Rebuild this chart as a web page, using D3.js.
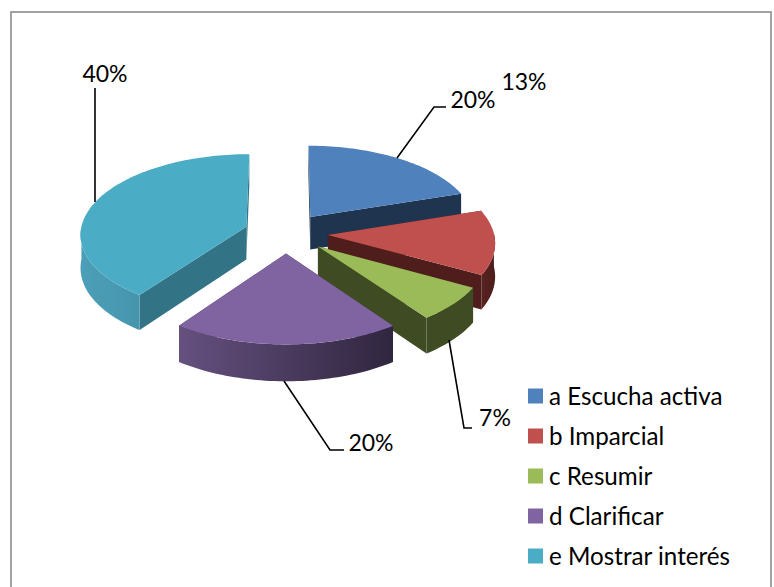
<!DOCTYPE html>
<html><head><meta charset="utf-8">
<script src="https://cdn.jsdelivr.net/npm/d3@7"></script>
<style>html,body{margin:0;padding:0;background:#fff}svg{display:block}text{font-family:Lato,"Open Sans",sans-serif;fill:#000}</style>
</head><body>
<svg id="c" width="774" height="587"></svg>
<script>
const categories = ["a Escucha activa","b Imparcial","c Resumir","d Clarificar","e Mostrar interés"];
const values = [20,13,7,20,40];
const pctLabels = ["20%","13%","7%","20%","40%"];
const topColors = ["#4F81BD","#C0504D","#9BBB59","#8064A2","#4BACC6"];
const cutColors = ["#1E344F","#4F1E1C","#3F4B22","#352A45","#327386"];
const rimLeft = ["#1E344F","#5A2321","#3F4B22","#65507F","#4C9FB8"];
const rimRight = ["#1E344F","#4A1D1B","#3F4B22","#30263F","#3A8299"];

const W=774,H=587, cx=286, cy=233, R=166, tilt=0.48, persp=2000, explode=42, depth=33;
const svg=d3.select("#c");
const defs=svg.append("defs");
svg.append("rect").attr("x",11).attr("y",12).attr("width",W-14).attr("height",H+20).attr("fill","#fff").attr("stroke","#8c8c8c").attr("stroke-width",1.6);

const pie=d3.pie().sort(null).value(d=>d);
const arcs=pie(values);
function proj(X,Z,Y){const p=1/(1+Z/persp);return [cx+X*p, cy-Z*tilt*p+Y*p];}
const line=d3.line();
const order=[4,0,1,2,3];
function sample(a0,a1){const n=Math.max(2,Math.ceil((a1-a0)*40));return d3.range(n+1).map(i=>a0+(a1-a0)*i/n);}

const g=svg.append("g");
order.forEach(i=>{
  const a=arcs[i], mid=(a.startAngle+a.endAngle)/2;
  const ox=explode*Math.sin(mid), oz=explode*Math.cos(mid);
  const P=(ang,r,y)=>proj(ox+r*Math.sin(ang),oz+r*Math.cos(ang),y);
  const gid="rim"+i, angs=sample(a.startAngle,a.endAngle);
  const xs=angs.map(t=>P(t,R,0)[0]);
  const lg=defs.append("linearGradient").attr("id",gid).attr("gradientUnits","userSpaceOnUse")
    .attr("x1",d3.min(xs)).attr("x2",d3.max(xs)).attr("y1",0).attr("y2",0);
  lg.append("stop").attr("offset",0).attr("stop-color",rimLeft[i]);
  lg.append("stop").attr("offset",1).attr("stop-color",rimRight[i]);
  const G=g.append("g");
  [a.startAngle,a.endAngle].forEach(t=>{
    G.append("path").attr("d",line([P(0,0,0),P(t,R,0),P(t,R,depth),P(0,0,depth)])+"Z").attr("fill",cutColors[i]);
  });
  const front=angs.filter(t=>Math.cos(t)<=0.02);
  if(front.length>1){
    const pts=front.map(t=>P(t,R,0)).concat(front.slice().reverse().map(t=>P(t,R,depth)));
    G.append("path").attr("d",line(pts)+"Z").attr("fill",`url(#${gid})`);
  }
  const top=[P(0,0,0)].concat(angs.map(t=>P(t,R,0)));
  G.append("path").attr("d",line(top)+"Z").attr("fill",topColors[i]);
});

const labelX=[473,524,495,371,105], labelY=[108,90,426,451,82];
const leaders=[[[397,158],[434,107],[446,107]],[],[[449,340],[464,428],[472,428]],[[284,381],[330,450],[344,450]],[[95,202],[95,88]]];
leaders.forEach(l=>{if(l.length) svg.append("path").attr("d",line(l)).attr("fill","none").attr("stroke","#000").attr("stroke-width",1.6);});
pctLabels.forEach((t,i)=>svg.append("text").attr("x",labelX[i]).attr("y",labelY[i]).attr("text-anchor","middle").attr("font-size",23).text(t));

const ly=d3.scalePoint().domain(categories).range([396,556]);
categories.forEach((c,i)=>{
  svg.append("rect").attr("x",528).attr("y",ly(c)-7.5).attr("width",15).attr("height",15).attr("fill",topColors[i]);
  svg.append("text").attr("x",549).attr("y",ly(c)+8.5).attr("font-size",24.2).text(c);
});
</script>
</body></html>
